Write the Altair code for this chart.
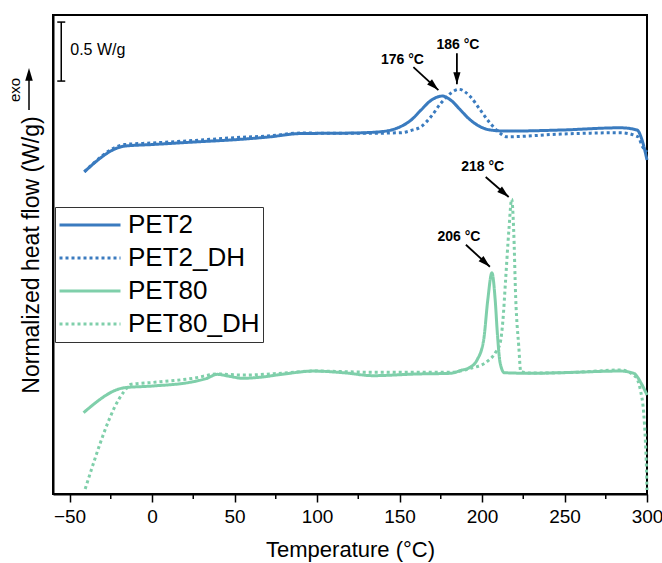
import math

import altair as alt
import pandas as pd

# ---- DSC heating curves (temperature in °C, normalized heat flow in W/g, stacked offsets) ----
SERIES = ["PET2", "PET2_DH", "PET80", "PET80_DH"]

t_pet2 = [-41, -16.5, 0, 25, 53.5, 70, 90, 120, 138, 150, 157, 163, 169, 176,
          181, 187, 193, 199, 205, 215, 248, 284, 294, 297, 300]
hf_pet2 = [2.731, 2.949, 2.962, 2.983, 3.006, 3.025, 3.055, 3.059, 3.070, 3.110,
           3.169, 3.254, 3.335, 3.373, 3.339, 3.254, 3.169, 3.113, 3.085, 3.076,
           3.085, 3.104, 3.085, 3.000, 2.831]

t_pet2_dh = [-41, -16.5, 0, 25, 53.5, 70, 90, 126, 150.5, 157, 163, 169, 175,
             181, 186, 193, 199, 205, 211, 215, 248, 284, 294.5, 297.3, 300]
hf_pet2_dh = [2.731, 2.962, 2.975, 2.996, 3.023, 3.034, 3.059, 3.057, 3.062,
              3.081, 3.113, 3.197, 3.311, 3.396, 3.430, 3.367, 3.254, 3.142,
              3.057, 3.028, 3.051, 3.062, 3.028, 2.943, 2.898]

t_pet80 = [-41.5, -16.5, 0, 25, 33, 39.5, 46, 55, 65, 80, 98, 116, 134, 160,
           181, 187, 193, 197, 201, 203.5, 206, 208, 209.3, 211, 213.5, 230,
           248, 284, 292, 296.5, 300]
hf_pet80 = [0.689, 0.901, 0.915, 0.952, 0.979, 1.014, 1.000, 0.981, 0.989, 1.017,
            1.042, 1.028, 1.003, 1.017, 1.023, 1.047, 1.076, 1.136, 1.305, 1.644,
            1.875, 1.644, 1.364, 1.110, 1.028, 1.023, 1.028, 1.042, 1.023, 0.938,
            0.839]

t_pet80_dh = [-40.5, -17, -12.5, 0, 25, 40, 55, 80, 98, 134, 181, 193, 203, 208,
              211, 212.7, 214.3, 216.3, 218, 219.2, 220.4, 222.3, 223.5, 230, 260,
              284, 293, 296, 298, 299, 299.7, 300]
hf_pet80_dh = [0.042, 0.867, 0.930, 0.945, 0.981, 1.017, 1.008, 1.025, 1.042,
               1.032, 1.032, 1.065, 1.121, 1.195, 1.280, 1.475, 1.814, 2.237,
               2.500, 2.237, 1.672, 1.248, 1.036, 1.025, 1.034, 1.051, 0.994,
               0.881, 0.684, 0.458, 0.203, 0.034]

# peak labels: text, curve, peak temperature
peak_labels = ["176 °C", "186 °C", "206 °C", "218 °C"]
peak_series = ["PET2", "PET2_DH", "PET80", "PET80_DH"]
peak_temps = [176, 186, 206, 218]

# scale bar (W/g)
bar_lo, bar_hi = 3.5, 4.0

x_ticks = [-50, 0, 50, 100, 150, 200, 250, 300]
x_minor = [-25, 25, 75, 125, 175, 225, 275]

# ---- layout ----
W, H = 594, 479
BLUE = "#3a7bbf"
GREEN = "#7fcfaa"
FONT = "Liberation Sans"

curve_arrays = {
    "PET2": (t_pet2, hf_pet2),
    "PET2_DH": (t_pet2_dh, hf_pet2_dh),
    "PET80": (t_pet80, hf_pet80),
    "PET80_DH": (t_pet80_dh, hf_pet80_dh),
}
curves = pd.concat(
    [pd.DataFrame({"series": k, "T": t, "hf": v}) for k, (t, v) in curve_arrays.items()],
    ignore_index=True,
)

x_axis = alt.Axis(
    values=x_ticks, format="d", grid=False, labelFlush=False,
    tickSize=8, tickWidth=1.5, tickColor="black",
    domainColor="black", domainWidth=2,
    labelFontSize=19, labelFont=FONT, labelColor="black", labelPadding=5,
    title="Temperature (°C)", titleFontSize=22, titleFont=FONT,
    titleFontWeight="normal", titleColor="black", titlePadding=13,
)
y_axis = alt.Axis(
    labels=False, ticks=False, grid=False,
    domainColor="black", domainWidth=2,
    title="Normalized heat flow (W/g)", titleFontSize=23, titleFont=FONT,
    titleFontWeight="normal", titleColor="black",
    titleAngle=270, titleX=-22, titleY=H / 2,
    titleAlign="center", titleBaseline="middle",
)
x_scale = alt.Scale(domain=[-60, 300], nice=False, zero=False)
y_scale = alt.Scale(domain=[0, 4.06], nice=False, zero=False)
X = alt.X("T:Q", scale=x_scale, axis=x_axis)
Y = alt.Y("hf:Q", scale=y_scale, axis=y_axis)

legend = alt.Legend(
    title=None, orient="none", legendX=2, legendY=192,
    symbolType="stroke", symbolSize=3721, symbolStrokeWidth=3,
    labelFontSize=26, labelFont=FONT, labelColor="black", labelOffset=6,
    strokeColor="#333333", fillColor="white", padding=3, rowPadding=3,
    clipHeight=30,
)

lines = alt.Chart(curves).mark_line(interpolate="monotone", strokeWidth=3).encode(
    x=X, y=Y,
    color=alt.Color("series:N", scale=alt.Scale(domain=SERIES, range=[BLUE, BLUE, GREEN, GREEN]),
                    legend=legend),
    strokeDash=alt.StrokeDash("series:N", scale=alt.Scale(domain=SERIES,
                              range=[[1, 0], [3, 3], [1, 0], [3, 3]]), legend=legend),
)

# minor ticks along the temperature axis
minor = alt.Chart(pd.DataFrame({"T": x_minor})).mark_rule(color="black", strokeWidth=1.5).encode(
    x=X, y=alt.value(H), y2=alt.value(H + 5),
)

# 0.5 W/g scale bar
bar_x = -55
bar = alt.Chart(pd.DataFrame({"T": [bar_x], "lo": [bar_lo], "hi": [bar_hi]})).mark_rule(
    color="black", strokeWidth=1.5).encode(
    x=X, y=alt.Y("lo:Q", scale=y_scale, axis=y_axis), y2="hi:Q")
caps = alt.Chart(pd.DataFrame({"T": [bar_x, bar_x], "hf": [bar_lo, bar_hi]})).mark_rule(
    color="black", strokeWidth=1.5, xOffset=-4, x2Offset=4).encode(
    x=X, x2="T:Q", y=Y)
bar_text = alt.Chart(pd.DataFrame({"T": [bar_x], "hf": [(bar_lo + bar_hi) / 2],
                                   "label": [f"{bar_hi - bar_lo:.1f} W/g"]})).mark_text(
    align="left", baseline="middle", dx=9, dy=-2, fontSize=16, font=FONT, color="black").encode(
    x=X, y=Y, text="label:N")

# peak annotations: pixel offsets from the peak for arrow start, arrow tip and label centre
ann_offsets = {
    "176 °C": ((-29, -29), (-4, -6), (-40, -36)),
    "186 °C": ((-2, -36), (-2, -5), (-1, -44)),
    "206 °C": ((-26, -28), (-2, -6), (-33, -36)),
    "218 °C": ((-26, -22), (-3, -2), (-29, -32)),
}
HEAD = "M0,0L0.6,2L-0.6,2Z"

ann_layers = []
for label, name, temp in zip(peak_labels, peak_series, peak_temps):
    ts, vs = curve_arrays[name]
    peak = pd.DataFrame({"T": [temp], "hf": [dict(zip(ts, vs))[temp]], "label": [label]})
    (sx, sy), (ex, ey), (tx, ty) = ann_offsets[label]
    ang = math.degrees(math.atan2(ex - sx, -(ey - sy))) % 360
    base = alt.Chart(peak).encode(x=X, y=Y)
    ann_layers.append(base.mark_rule(color="black", strokeWidth=1.8,
                                     xOffset=sx, yOffset=sy, x2Offset=ex, y2Offset=ey)
                      .encode(x2="T:Q", y2="hf:Q"))
    ann_layers.append(base.mark_point(shape=HEAD, size=144, filled=True, color="black",
                                      opacity=1, strokeWidth=0, angle=ang,
                                      xOffset=ex, yOffset=ey))
    ann_layers.append(base.mark_text(fontSize=14, fontWeight="bold", font=FONT, color="black",
                                     dx=tx, dy=ty, align="center", baseline="middle")
                      .encode(text="label:N"))

# "exo" direction marker beside the y-axis title
exo_df = pd.DataFrame({"label": ["exo"]})
exo_text = alt.Chart(exo_df).mark_text(angle=270, fontSize=15, font=FONT, color="black",
                                       align="center", baseline="middle").encode(
    text="label:N", x=alt.value(-38), y=alt.value(75))
exo_line = alt.Chart(exo_df).mark_rule(color="black", strokeWidth=1.5).encode(
    x=alt.value(-24), y=alt.value(95), y2=alt.value(62))
exo_head = alt.Chart(exo_df).mark_point(shape=HEAD, size=160, filled=True, color="black",
                                        opacity=1, strokeWidth=0).encode(
    x=alt.value(-24), y=alt.value(53))

chart = alt.layer(
    lines, minor, bar, caps, bar_text, *ann_layers, exo_line, exo_head, exo_text,
).properties(
    width=W, height=H,
    autosize=alt.AutoSizeParams(type="none"),
    padding={"left": 53, "top": 15, "right": 15, "bottom": 69},
).configure(font=FONT).configure_view(stroke="black", strokeWidth=2)

chart.save("out.html", embed_options={"renderer": "svg", "actions": False})
